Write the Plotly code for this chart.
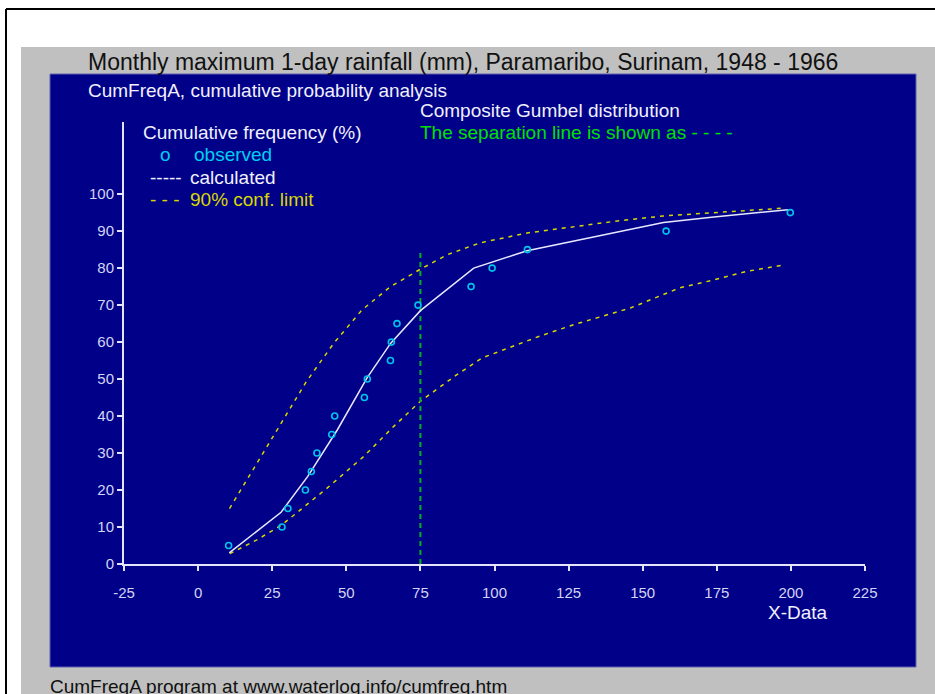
import plotly.graph_objects as go

# ---------------- data ----------------
obs_x = [10.3, 28.3, 30.3, 36.2, 38.2, 40.1, 45.1, 46.1, 56.1, 57.1, 64.9, 65.2, 67.1, 74.2, 92.1, 99.2, 111.1, 157.9, 199.8]
obs_y = [5, 10, 15, 20, 25, 30, 35, 40, 45, 50, 55, 60, 65, 70, 75, 80, 85, 90, 95]

calc_x = [10.5, 28, 37, 42, 47, 57, 65, 75, 83, 93, 111, 140, 157, 174, 199]
calc_y = [3, 14, 23.7, 30, 36.3, 50.3, 59.7, 68.5, 73.7, 80, 84.7, 89.5, 92.3, 93.8, 95.8]

upper_x = [10.6, 16.5, 23.8, 28.3, 36.5, 45.8, 55.3, 64.9, 75, 84, 95, 111, 140, 157, 174, 197.5]
upper_y = [15, 22.8, 32.2, 38.1, 49.3, 59.7, 68.7, 75, 79.7, 83.6, 86.8, 89.5, 92.6, 94.1, 94.9, 96.2]

lower_x = [10.7, 20, 28.3, 36.8, 43.5, 55.9, 66, 75, 80.6, 86.8, 95.8, 105.9, 114.9, 126.7, 145.8, 162.6, 174, 185, 198]
lower_y = [2.8, 6.6, 10.6, 16, 20.5, 29.1, 37.2, 44, 47.3, 50.9, 55.7, 58.8, 61.5, 64.7, 69.2, 74.7, 76.8, 79.1, 80.9]

sep_x = [75, 75]
sep_y = [0, 84.2]

x_ticks = [-25, 0, 25, 50, 75, 100, 125, 150, 175, 200, 225]
y_ticks = [0, 10, 20, 30, 40, 50, 60, 70, 80, 90, 100]

# ---------------- layout geometry ----------------
W, H = 935, 694
ML, MR, MT, MB = 124, 70, 122, 130
PW = W - ML - MR
PH = H - MT - MB


def px(x):
    return (x - ML) / PW


def py(y):
    return (H - MB - y) / PH


FONT = "Arial, Liberation Sans, sans-serif"
BLUE = "#000088"
AX = "#e4e4ff"
TICK = "#d4d4f4"
TXT = 19

fig = go.Figure()

fig.add_trace(go.Scatter(x=upper_x, y=upper_y, mode="lines",
                         line=dict(color="#d8d800", width=1.5, dash="4px,5px"),
                         hoverinfo="skip", showlegend=False))
fig.add_trace(go.Scatter(x=lower_x, y=lower_y, mode="lines",
                         line=dict(color="#d8d800", width=1.5, dash="4px,5px"),
                         hoverinfo="skip", showlegend=False))
fig.add_trace(go.Scatter(x=sep_x, y=sep_y, mode="lines",
                         line=dict(color="#00b020", width=2, dash="5px,4px"),
                         hoverinfo="skip", showlegend=False))
fig.add_trace(go.Scatter(x=calc_x, y=calc_y, mode="lines",
                         line=dict(color="#e8e8ff", width=1.5),
                         hoverinfo="skip", showlegend=False))
fig.add_trace(go.Scatter(x=obs_x, y=obs_y, mode="markers",
                         marker=dict(symbol="circle-open", size=6, color="#00c4ec",
                                     line=dict(width=1.6, color="#00c4ec")),
                         hoverinfo="skip", showlegend=False))

shapes = [
    # gray panel
    dict(type="rect", xref="paper", yref="paper", x0=px(21), x1=px(940), y0=py(47), y1=py(700),
         fillcolor="#c0c0c0", line=dict(width=0), layer="below"),
    # blue panel
    dict(type="rect", xref="paper", yref="paper", x0=px(50), x1=px(916), y0=py(74), y1=py(667),
         fillcolor=BLUE, line=dict(width=1, color="#6060b0"), layer="below"),
    # black frame
    dict(type="line", xref="paper", yref="paper", x0=px(6), x1=px(940), y0=py(9), y1=py(9),
         line=dict(color="black", width=2), layer="below"),
    dict(type="line", xref="paper", yref="paper", x0=px(6), x1=px(6), y0=py(9), y1=py(700),
         line=dict(color="black", width=2), layer="below"),
]


def ann(text, x, y, color, size, anchor="left"):
    return dict(text=text, x=px(x), y=py(y), xref="paper", yref="paper",
                xanchor=anchor, yanchor="middle", showarrow=False,
                font=dict(family=FONT, size=size, color=color))


annotations = [
    ann("Monthly maximum 1-day rainfall (mm), Paramaribo, Surinam, 1948 - 1966", 86, 62, "#111111", 23),
    ann("CumFreqA, cumulative probability analysis", 86, 90, "#f0f0ff", TXT),
    ann("Composite Gumbel distribution", 418, 110, "#f0f0ff", TXT),
    ann("The separation line is shown as - - - -", 418, 132, "#00e000", TXT),
    ann("Cumulative frequency (%)", 141, 132, "#f0f0ff", TXT),
    ann("o", 158, 155, "#00d0f0", TXT),
    ann("observed", 192, 155, "#00d0f0", TXT),
    ann("-----", 148, 177, "#f0f0ff", TXT),
    ann("calculated", 188, 177, "#f0f0ff", TXT),
    ann("- - -", 148, 199, "#d8d800", TXT),
    ann("90% conf. limit", 188, 199, "#d8d800", TXT),
    ann("X-Data", 798, 612, "#f0f0ff", TXT, anchor="center"),
    ann("CumFreqA program at www.waterlog.info/cumfreq.htm", 48, 686, "#111111", TXT),
]

fig.update_layout(
    width=W, height=H,
    margin=dict(l=ML, r=MR, t=MT, b=MB, pad=0),
    paper_bgcolor="white",
    plot_bgcolor="rgba(0,0,0,0)",
    shapes=shapes,
    annotations=annotations,
    showlegend=False,
    xaxis=dict(range=[-25, 225], tickvals=x_ticks, ticktext=[str(v) for v in x_ticks],
               showgrid=False, zeroline=False, showline=True, linecolor=AX, linewidth=2,
               ticks="outside", ticklen=5, tickwidth=1.5, tickcolor=AX, ticklabelstandoff=9,
               tickfont=dict(family=FONT, size=15, color=TICK), fixedrange=True),
    yaxis=dict(range=[0, 119.5], tickvals=y_ticks, ticktext=[str(v) for v in y_ticks],
               showgrid=False, zeroline=False, showline=True, linecolor=AX, linewidth=2,
               ticks="outside", ticklen=5, tickwidth=1.5, tickcolor=AX,
               tickfont=dict(family=FONT, size=15, color=TICK), fixedrange=True),
)

fig.write_html("out.html")
